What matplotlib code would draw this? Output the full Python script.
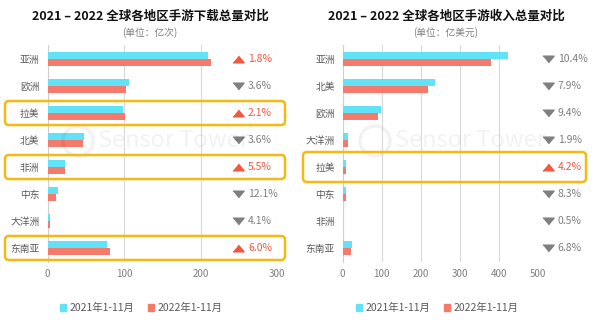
import matplotlib
matplotlib.use("Agg")
import matplotlib.pyplot as plt
import numpy as np
from matplotlib.patches import Circle, FancyBboxPatch, Patch
from matplotlib.transforms import IdentityTransform

plt.rcParams["font.family"] = ["Noto Sans CJK SC", "DejaVu Sans"]

# downloads (亿次)
DL_REGIONS = ["亚洲", "欧洲", "拉美", "北美", "非洲", "中东", "大洋洲", "东南亚"]
DL_2021 = [210, 107, 99, 48, 22, 13, 2.5, 77]
DL_2022 = [214, 103, 101, 46.5, 23, 11.5, 2.4, 81]
DL_CHANGE = ["1.8%", "3.6%", "2.1%", "3.6%", "5.5%", "12.1%", "4.1%", "6.0%"]
DL_UP = [True, False, True, False, True, False, False, True]
DL_HIGHLIGHT = ["拉美", "非洲", "东南亚"]
DL_TICKS = [0, 100, 200, 300]

# revenue (亿美元)
REV_REGIONS = ["亚洲", "北美", "欧洲", "大洋洲", "拉美", "中东", "非洲", "东南亚"]
REV_2021 = [425, 237, 99, 13, 9, 9, 1.0, 24]
REV_2022 = [381, 218, 90, 12.7, 9.4, 8.3, 1.0, 22.4]
REV_CHANGE = ["10.4%", "7.9%", "9.4%", "1.9%", "4.2%", "8.3%", "0.5%", "6.8%"]
REV_UP = [False, False, False, False, True, False, False, False]
REV_HIGHLIGHT = ["拉美"]
REV_TICKS = [0, 100, 200, 300, 400, 500]

LEGEND = ["2021年1-11月", "2022年1-11月"]

CYAN = "#62E2F6"
SALMON = "#F47A6B"
RED = "#F0583F"
GREY = "#7F7F7F"
GOLD = "#F5B915"

W, H = 595, 325
fig = plt.figure(figsize=(W / 100, H / 100), dpi=100)


def px(x0, y0, x1, y1):
    return [x0 / W, 1 - y1 / H, (x1 - x0) / W, (y1 - y0) / H]


def draw_panel(rect, regions, v21, v22, changes, ups, highlight, ticks,
               tri_x, txt_x, ypad, title, subtitle, cx, box_x, box_h, wm_x):
    ax = fig.add_axes(rect)
    y = np.arange(len(regions))
    h = 0.25
    ax.barh(y - h / 2, v21, height=h, color=CYAN, zorder=3)
    ax.barh(y + h / 2, v22, height=h, color=SALMON, zorder=3)
    ax.set_ylim(len(regions) - 0.48, -0.52)
    ax.set_xlim(ticks[0], ticks[-1])
    ax.set_xticks(ticks)
    ax.set_yticks(y)
    ax.set_yticklabels(regions, fontsize=7, color="#595959")
    ax.tick_params(axis="y", length=0, pad=ypad)
    ax.tick_params(axis="x", length=0, pad=5, labelsize=7, labelcolor=GREY)
    ax.grid(axis="x", color="#D9D9D9", linewidth=0.8, zorder=0)
    for side in ["top", "right", "bottom"]:
        ax.spines[side].set_visible(False)
    ax.spines["left"].set_color("#CFCFCF")
    ax.spines["left"].set_linewidth(0.8)

    up_marker = [(-1, -0.6), (1, -0.6), (0, 0.6)]
    dn_marker = [(-1, 0.6), (1, 0.6), (0, -0.6)]
    for i, (chg, up) in enumerate(zip(changes, ups)):
        col = RED if up else GREY
        ax.plot([tri_x], [i], marker=up_marker if up else dn_marker,
                markersize=8, color=col, linestyle="none", clip_on=False, zorder=4)
        ax.text(txt_x, i, chg, color=col, fontsize=7.5, va="center", ha="left",
                clip_on=False)

    # faint watermark
    fig.patches.append(Circle((wm_x, H - 141), 15, transform=IdentityTransform(),
                              fill=False, edgecolor="#000000", alpha=0.05,
                              linewidth=2.5))
    fig.text((wm_x + 20) / W, 1 - 141 / H, "Sensor Tower", fontsize=17,
             color="#000000", alpha=0.05, ha="left", va="center", zorder=1)

    fig.text(cx / W, 1 - 16 / H, title, fontsize=9, fontweight="bold",
             ha="center", va="center", color="#111111")
    fig.text(cx / W, 1 - 33 / H, subtitle, fontsize=7, ha="center",
             va="center", color=GREY)

    # highlight boxes around rows
    for name in highlight:
        i = regions.index(name)
        yc = H - ax.transData.transform((0, i))[1]
        box = FancyBboxPatch((box_x[0], H - yc - box_h / 2),
                             box_x[1] - box_x[0], box_h,
                             boxstyle="round,pad=0,rounding_size=4",
                             transform=IdentityTransform(), fill=False,
                             edgecolor=GOLD, linewidth=1.8, zorder=10)
        fig.patches.append(box)

    handles = [Patch(color=CYAN), Patch(color=SALMON)]
    fig.legend(handles, LEGEND, loc="center", bbox_to_anchor=(cx / W - 0.015, 1 - 308 / H),
               ncol=2, frameon=False, fontsize=7.5, handlelength=0.6,
               handleheight=0.6, handletextpad=0.3, columnspacing=1.3,
               labelcolor="#595959")
    return ax


draw_panel(px(47.7, 45, 277, 262), DL_REGIONS, DL_2021, DL_2022, DL_CHANGE,
           DL_UP, DL_HIGHLIGHT, DL_TICKS, 249, 262, 6,
           "2021 – 2022 全球各地区手游下载总量对比", "(单位：亿次)", 150,
           (5, 285), 24, 78)
draw_panel(px(342.7, 45, 537.7, 262), REV_REGIONS, REV_2021, REV_2022, REV_CHANGE,
           REV_UP, REV_HIGHLIGHT, REV_TICKS, 526, 551, 5.5,
           "2021 – 2022 全球各地区手游收入总量对比", "(单位：亿美元)", 446,
           (303, 586), 30, 375)

fig.savefig("out.png", dpi=100)
